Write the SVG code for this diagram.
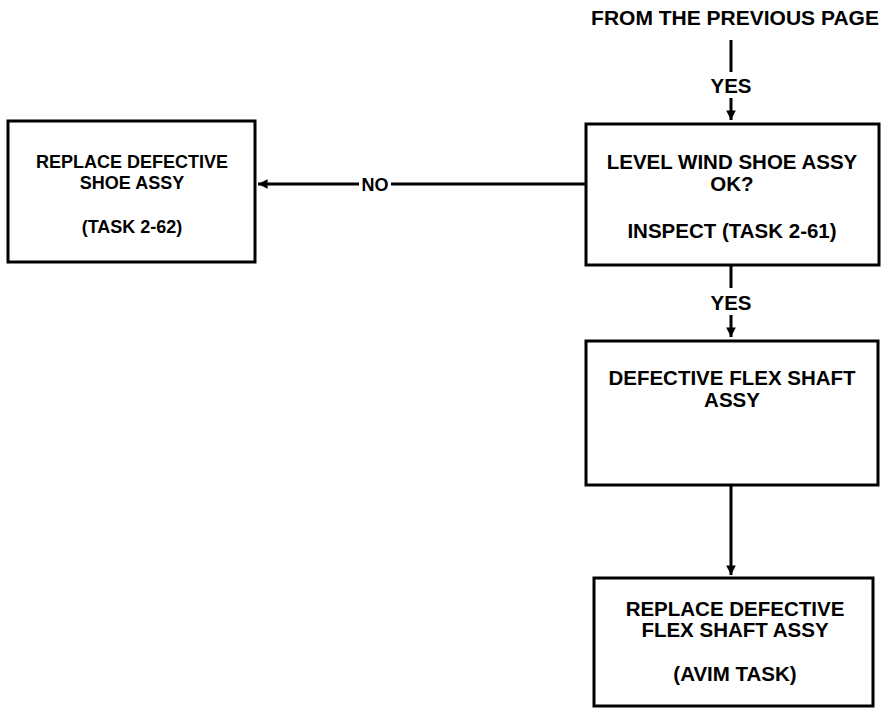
<svg xmlns="http://www.w3.org/2000/svg" width="884" height="725" viewBox="0 0 884 725">
<style>
.box{fill:#fff;stroke:#000;stroke-width:3}
.t{font-family:"Liberation Sans",Arial,sans-serif;font-weight:bold;fill:#000;text-anchor:middle}
.r{font-size:20.5px}
.l{font-size:18px}
.ln{stroke:#000;stroke-width:3;fill:none}
</style>
<defs>
<marker id="ah" viewBox="0 0 10 10" refX="10" refY="5" markerWidth="3.2" markerHeight="3.2" orient="auto" markerUnits="strokeWidth">
<path d="M0,0 L10,5 L0,10 z" fill="#000"/>
</marker>
</defs>
<g id="start">
<text class="t" x="735" y="25" font-size="21">FROM THE PREVIOUS PAGE</text>
</g>
<g id="n-level">
<rect class="box" x="586" y="124" width="293" height="141"/>
<text class="t r" x="732" y="169">LEVEL WIND SHOE ASSY</text>
<text class="t r" x="732" y="191">OK?</text>
<text class="t r" x="732" y="238">INSPECT (TASK 2-61)</text>
</g>
<g id="n-shoe">
<rect class="box" x="8" y="121" width="247" height="141"/>
<text class="t l" x="132" y="168">REPLACE DEFECTIVE</text>
<text class="t l" x="132" y="189">SHOE ASSY</text>
<text class="t l" x="132" y="233">(TASK 2-62)</text>
</g>
<g id="n-flex">
<rect class="box" x="586" y="341" width="292" height="144"/>
<text class="t r" x="732" y="385">DEFECTIVE FLEX SHAFT</text>
<text class="t r" x="732" y="407">ASSY</text>
</g>
<g id="n-replace">
<rect class="box" x="594" y="578" width="279" height="128"/>
<text class="t r" x="735" y="616">REPLACE DEFECTIVE</text>
<text class="t r" x="735" y="637">FLEX SHAFT ASSY</text>
<text class="t r" x="735" y="681">(AVIM TASK)</text>
</g>
<g id="connectors">
<line class="ln" x1="731" y1="40" x2="731" y2="72"/>
<text class="t r" x="731" y="93">YES</text>
<line class="ln" x1="731" y1="98" x2="731" y2="120" marker-end="url(#ah)"/>
<line class="ln" x1="586" y1="184" x2="391" y2="184"/>
<text class="t l" x="375" y="191">NO</text>
<line class="ln" x1="359" y1="184" x2="258" y2="184" marker-end="url(#ah)"/>
<line class="ln" x1="731" y1="265" x2="731" y2="288"/>
<text class="t r" x="731" y="310">YES</text>
<line class="ln" x1="731" y1="315" x2="731" y2="337" marker-end="url(#ah)"/>
<line class="ln" x1="731" y1="485" x2="731" y2="575" marker-end="url(#ah)"/>
</g>
</svg>
